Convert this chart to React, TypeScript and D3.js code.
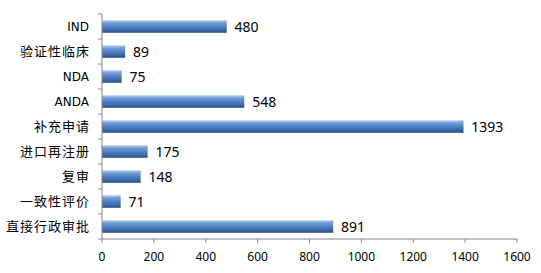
import React from "react";
import * as d3 from "d3";

const categories = ["IND", "验证性临床", "NDA", "ANDA", "补充申请", "进口再注册", "复审", "一致性评价", "直接行政审批"];
const values = [480, 89, 75, 548, 1393, 175, 148, 71, 891];
const xTicks = [0, 200, 400, 600, 800, 1000, 1200, 1400, 1600];

const W = 541, H = 273;
const left = 102, right = 517, top = 14, bottom = 239;

export default function App() {
  const x = d3.scaleLinear().domain([0, 1600]).range([left, right]);
  const y = d3.scaleBand().domain(categories).range([top, bottom]).paddingInner(0.5).paddingOuter(0.25);
  const band = (bottom - top) / categories.length;
  const axisColor = "#868686";
  const isLatin = (c: string) => /^[A-Z]+$/.test(c);
  return (
    <svg width={W} height={H} style={{ position: "absolute", left: 0, top: 0 }}>
      <defs>
        <linearGradient id="barg" x1="0" y1="0" x2="0" y2="1">
          <stop offset="0" stopColor="#b9d1f0" />
          <stop offset="0.25" stopColor="#6d9ad6" />
          <stop offset="0.55" stopColor="#4a7dc0" />
          <stop offset="0.85" stopColor="#3565a6" />
          <stop offset="1" stopColor="#1f4676" />
        </linearGradient>
        <linearGradient id="endg" x1="0" y1="0" x2="0" y2="1">
          <stop offset="0" stopColor="#8fb2e0" />
          <stop offset="1" stopColor="#234e86" />
        </linearGradient>
      </defs>
      <rect x={0} y={0} width={W} height={H} fill="#fff" />
      {categories.map((c, i) => {
        const y0 = y(c)!;
        const h = y.bandwidth();
        const x1 = x(values[i]);
        return (
          <g key={c}>
            <rect x={left} y={y0} width={x1 - left} height={h} fill="url(#barg)" />
            <polygon points={`${x1 - 3},${y0 + 2} ${x1},${y0} ${x1},${y0 + h} ${x1 - 3},${y0 + h - 2}`} fill="url(#endg)" />
            <text x={x1 + 8} y={y0 + h / 2} dy="0.36em" fontFamily="Noto Sans" fontSize={14} fill="#000">{values[i]}</text>
            <text x={isLatin(c) ? 89 : 90} y={y0 + h / 2} dy="0.36em" textAnchor="end" fontFamily={isLatin(c) ? "DejaVu Sans" : "Noto Sans CJK SC"} fontSize={isLatin(c) ? 12 : 13} letterSpacing={isLatin(c) ? 0 : 1} fill="#000">{c}</text>
          </g>
        );
      })}
      <line x1={left} x2={left} y1={top} y2={bottom} stroke={axisColor} />
      {d3.range(categories.length + 1).map((i) => (
        <line key={i} x1={left - 4} x2={left} y1={top + i * band} y2={top + i * band} stroke={axisColor} />
      ))}
      <line x1={left} x2={right} y1={bottom} y2={bottom} stroke={axisColor} />
      {xTicks.map((t) => (
        <g key={t}>
          <line x1={x(t)} x2={x(t)} y1={bottom} y2={bottom + 4} stroke={axisColor} />
          <text x={x(t)} y={257} dy="0.36em" textAnchor="middle" fontFamily="Noto Sans" fontSize={12} fill="#000">{t}</text>
        </g>
      ))}
    </svg>
  );
}
